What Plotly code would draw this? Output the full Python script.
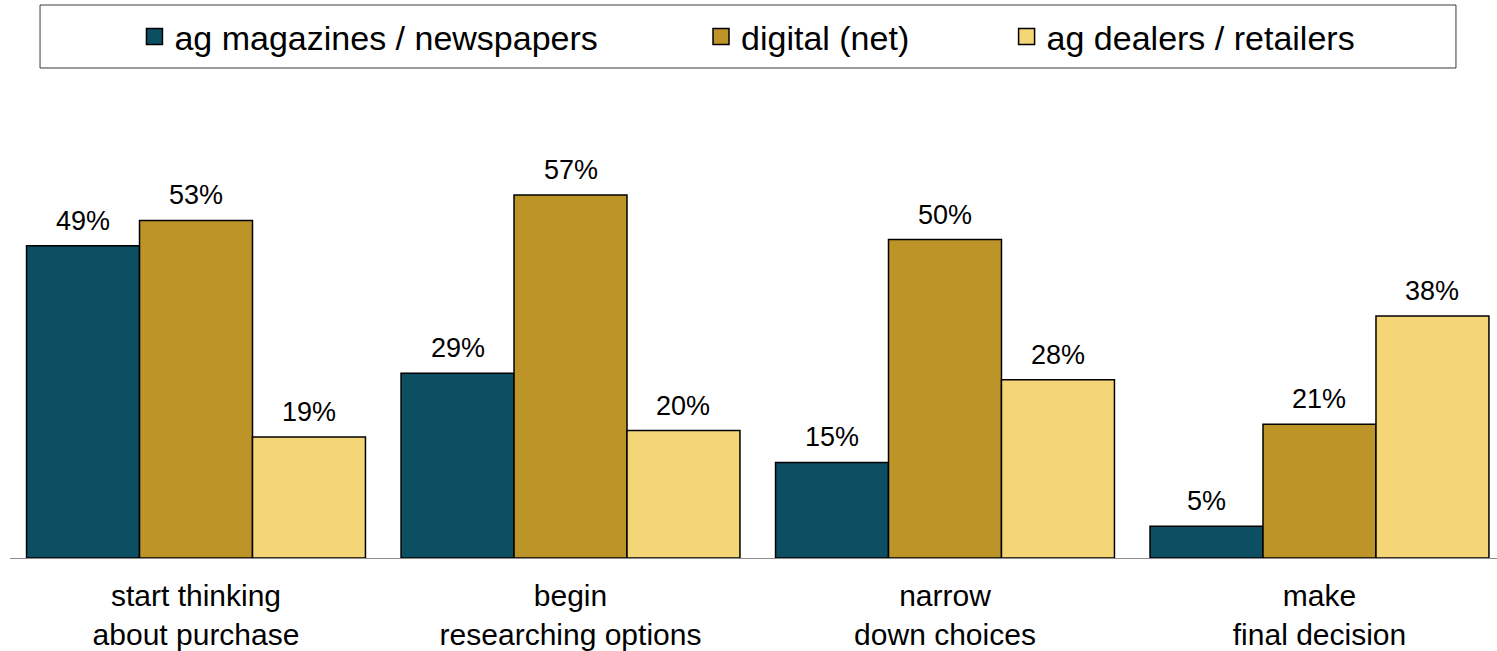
import plotly.graph_objects as go

# Purchase-journey stages (x categories) and tick labels
stages = ["start thinking about purchase", "begin researching options",
          "narrow down choices", "make final decision"]
stage_labels = ["start thinking<br>about purchase", "begin<br>researching options",
                "narrow<br>down choices", "make<br>final decision"]

# Share of respondents using each source at each stage (%)
series_names = ["ag magazines / newspapers", "digital (net)", "ag dealers / retailers"]
magazines = [49, 29, 15, 5]
digital = [53, 57, 50, 21]
dealers = [19, 20, 28, 38]

colors = ["#0D4F62", "#BC9428", "#F5D676"]
series_values = [magazines, digital, dealers]

W, H = 1497, 651
ML, MR, MT, MB = 10, 0, 100, 93
bargap = 0.095
bar_w = (1 - bargap) / 3

fig = go.Figure()

for name, vals, col in zip(series_names, series_values, colors):
    fig.add_trace(go.Bar(
        x=stages, y=vals, name=name, showlegend=False,
        marker=dict(color=col, line=dict(color="#000000", width=1.5)),
        hoverinfo="skip",
    ))

# Legend entries (one legend per item so each can sit at its own spot)
legend_ids = ["legend", "legend2", "legend3"]
legend_x = [0.0837, 0.4647, 0.6702]
for name, col, lid in zip(series_names, colors, legend_ids):
    fig.add_trace(go.Scatter(
        x=[None], y=[None], mode="markers", name=name, legend=lid,
        marker=dict(symbol="square", size=18, color=col,
                    line=dict(color="#000000", width=1.5)),
    ))

# Value labels above each bar
annotations = []
for j, vals in enumerate(series_values):
    for i, v in enumerate(vals):
        annotations.append(dict(
            x=i + (j - 1) * bar_w, y=v, xref="x", yref="y",
            text=f"{v}%", showarrow=False, yanchor="bottom", yshift=8,
            font=dict(size=27, color="#000000"),
        ))

legend_common = dict(orientation="h", yanchor="middle", y=1.1376, xanchor="left",
                     bgcolor="rgba(0,0,0,0)", borderwidth=0,
                     font=dict(size=34, color="#000000"))
layout_legends = {}
for lid, lx in zip(legend_ids, legend_x):
    layout_legends[lid] = dict(legend_common, x=lx)

fig.update_layout(
    width=W, height=H,
    margin=dict(l=ML, r=MR, t=MT, b=MB, autoexpand=False),
    paper_bgcolor="#FFFFFF", plot_bgcolor="#FFFFFF",
    font=dict(family="Liberation Sans, Arial, sans-serif", color="#000000"),
    barmode="group", bargap=bargap, bargroupgap=0,
    annotations=annotations,
    shapes=[dict(type="rect", xref="paper", yref="paper",
                 x0=0.0202, x1=0.9724, y0=1.0699, y1=1.2074,
                 line=dict(color="#3A3A3A", width=1), fillcolor="rgba(0,0,0,0)")],
    xaxis=dict(
        type="category", range=[-0.4967, 3.474], automargin=False,
        tickmode="array", tickvals=stages, ticktext=stage_labels,
        tickfont=dict(size=30, color="#000000"),
        showline=True, linecolor="#8C8C8C", linewidth=1,
        ticks="outside", ticklen=11, tickcolor="rgba(0,0,0,0)",
        showgrid=False, zeroline=False,
    ),
    yaxis=dict(range=[0, 71.9], visible=False, showgrid=False, zeroline=False,
               automargin=False),
    **layout_legends,
)

fig.write_html("out.html")
